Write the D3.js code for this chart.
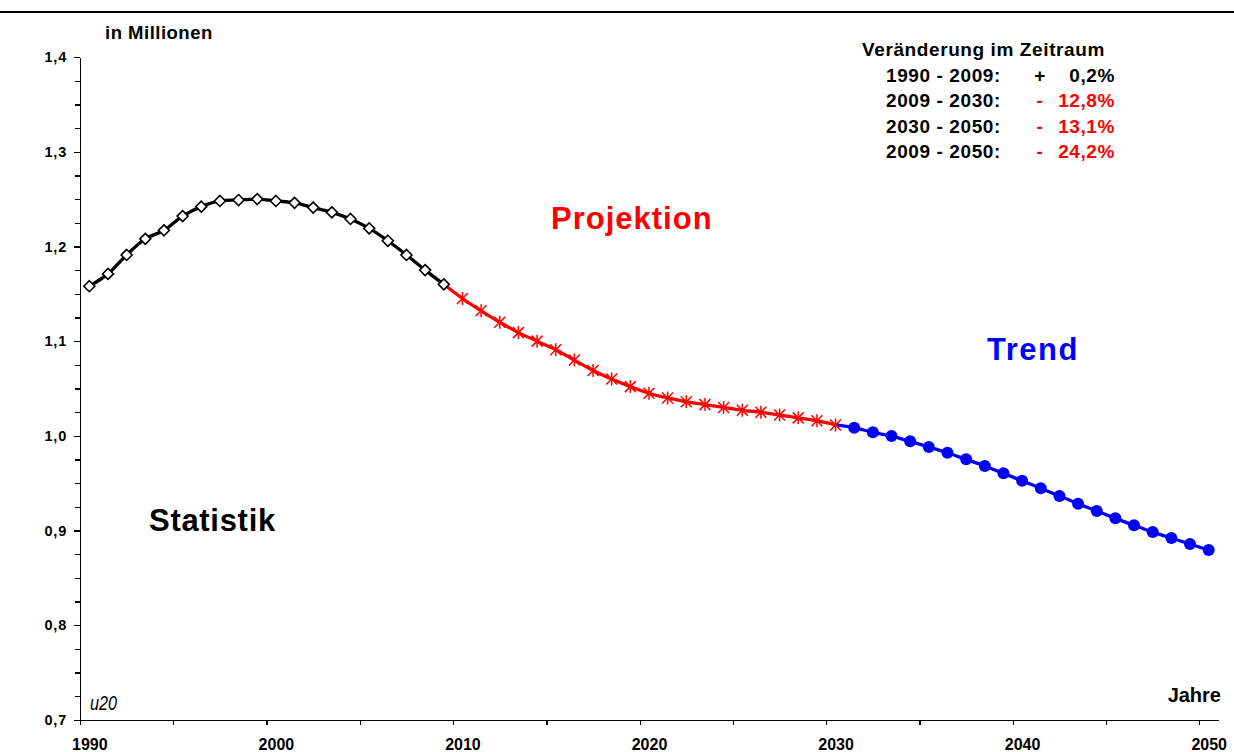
<!DOCTYPE html>
<html>
<head>
<meta charset="utf-8">
<title>Bevölkerung</title>
<style>
body { margin: 0; background: white; }
svg { display: block; font-family: "Liberation Sans", Arial, sans-serif; }
.axis path, .axis line { stroke: black; stroke-width: 1.3px; shape-rendering: crispEdges; }
.axis text { font-weight: bold; fill: black; font-family: "Liberation Sans", Arial, sans-serif; }
.x.axis text { font-size: 16px; }
.y.axis text { font-size: 14.5px; letter-spacing: 0.8px; }
.line { fill: none; stroke-width: 3.3px; stroke-linejoin: round; }
.lbl { font-weight: bold; }
</style>
</head>
<body>
<svg id="chart" width="1234" height="752"></svg>
<script src="https://cdn.jsdelivr.net/npm/d3@7"></script>
<script>

// data in millions, one value per year
var statYears = d3.range(1990, 2010);
var statistik = [1.158, 1.171, 1.191, 1.208, 1.217, 1.232, 1.242, 1.248, 1.249, 1.250,
                 1.248, 1.246, 1.241, 1.236, 1.229, 1.219, 1.206, 1.191, 1.175, 1.160];

var projYears = d3.range(2010, 2031);
var projektion = [1.145, 1.132, 1.120, 1.109, 1.100, 1.091, 1.080, 1.069, 1.060, 1.052,
                  1.045, 1.040, 1.036, 1.033, 1.030, 1.027, 1.025, 1.022, 1.019, 1.016, 1.0115];

var trendYears = d3.range(2031, 2051);
var trend = [1.0086, 1.0037, 0.9998, 0.9942, 0.9882, 0.9822, 0.9752, 0.9681, 0.9604, 0.9526,
             0.9446, 0.9364, 0.9283, 0.9206, 0.9129, 0.9055, 0.8984, 0.8921, 0.8858, 0.8794];

var legendTitle = "Veränderung im Zeitraum";
var legendPeriods = ["1990 - 2009:", "2009 - 2030:", "2030 - 2050:", "2009 - 2050:"];
var legendSigns = ["+", "-", "-", "-"];
var legendValues = ["0,2%", "12,8%", "13,1%", "24,2%"];

var xTicks = d3.range(1990, 2051, 10);
var xMinor = d3.range(1990, 2051, 5);
var yTicks = [0.7, 0.8, 0.9, 1.0, 1.1, 1.2, 1.3, 1.4];
var yMinor = d3.range(0, 29).map(function(i) { return 0.7 + i * 0.025; });

var svg = d3.select("#chart");

// category axis: each year occupies one slot, label and point in the middle
var x = d3.scaleLinear().domain([1990, 2051]).range([80, 1218]);
var y = d3.scaleLinear().domain([0.7, 1.4]).range([720, 57]);

var fmt = function(d) { return d3.format(".1f")(d).replace(".", ","); };

// top rule
svg.append("line")
    .attr("x1", 0).attr("x2", 1234)
    .attr("y1", 12).attr("y2", 12)
    .attr("stroke", "black").attr("stroke-width", 2);

// axes
svg.append("g")
    .attr("class", "x axis")
    .attr("transform", "translate(0," + y(0.7) + ")")
    .call(d3.axisBottom(x).tickValues(xMinor).tickSize(5).tickFormat("").tickSizeOuter(0));
svg.append("g")
    .attr("class", "x axis")
    .attr("transform", "translate(0," + y(0.7) + ")")
    .call(d3.axisBottom(x).tickValues(xTicks.map(function(d) { return d + 0.5; }))
        .tickSize(0).tickPadding(18.5).tickFormat(function(d) { return d - 0.5; }))
    .call(function(g) { g.select(".domain").remove(); });

svg.append("g")
    .attr("class", "y axis")
    .attr("transform", "translate(" + x(1990) + ",0)")
    .call(d3.axisLeft(y).tickValues(yMinor).tickSize(5).tickFormat("").tickSizeOuter(0));
svg.append("g")
    .attr("class", "y axis")
    .attr("transform", "translate(" + x(1990) + ",0)")
    .call(d3.axisLeft(y).tickValues(yTicks).tickSize(6).tickPadding(7).tickFormat(fmt).tickSizeOuter(0))
    .call(function(g) { g.select(".domain").remove(); });

// series
function pts(years, vals) {
  return years.map(function(yr, i) { return {year: yr, v: vals[i]}; });
}
var stat = pts(statYears, statistik);
var proj = pts(projYears, projektion);
var tr = pts(trendYears, trend);

var line = d3.line()
    .curve(d3.curveCatmullRom.alpha(0.5))
    .x(function(d) { return x(d.year + 0.5); })
    .y(function(d) { return y(d.v); });

svg.append("path").datum(stat).attr("class", "line").attr("stroke", "black").attr("d", line);
svg.append("path").datum([stat[stat.length - 1]].concat(proj)).attr("class", "line").attr("stroke", "#ff0000").attr("d", line);
svg.append("path").datum([proj[proj.length - 1]].concat(tr)).attr("class", "line").attr("stroke", "#0000ff").attr("d", line);

// markers
svg.append("g").selectAll("path")
    .data(stat)
  .join("path")
    .attr("transform", function(d) { return "translate(" + x(d.year + 0.5) + "," + y(d.v) + ")"; })
    .attr("d", "M0,-5.5L5.5,0L0,5.5L-5.5,0Z")
    .attr("fill", "white")
    .attr("stroke", "black")
    .attr("stroke-width", 1.6);

svg.append("g").selectAll("path")
    .data(proj)
  .join("path")
    .attr("transform", function(d) { return "translate(" + x(d.year + 0.5) + "," + y(d.v) + ")"; })
    .attr("d", "M-5.5,-5.5L5.5,5.5M5.5,-5.5L-5.5,5.5M0,-6.5L0,6.5")
    .attr("fill", "none")
    .attr("stroke", "#ff0000")
    .attr("stroke-width", 1.5);

svg.append("g").selectAll("circle")
    .data(tr)
  .join("circle")
    .attr("cx", function(d) { return x(d.year + 0.5); })
    .attr("cy", function(d) { return y(d.v); })
    .attr("r", 6)
    .attr("fill", "#0000ff");

// labels
svg.append("text").attr("class", "lbl").attr("x", 105).attr("y", 39)
    .attr("font-size", 18.5).attr("letter-spacing", 0.5).text("in Millionen");
svg.append("text").attr("class", "lbl").attr("x", 1221).attr("y", 702)
    .attr("font-size", 20).attr("text-anchor", "end").text("Jahre");
svg.append("text").attr("x", 90).attr("y", 710)
    .attr("font-style", "italic").attr("font-size", 21)
    .attr("textLength", 27).attr("lengthAdjust", "spacingAndGlyphs").text("u20");

svg.append("text").attr("class", "lbl").attr("x", 551).attr("y", 229)
    .attr("font-size", 31).attr("letter-spacing", 1).attr("fill", "#ff0000").text("Projektion");
svg.append("text").attr("class", "lbl").attr("x", 987).attr("y", 360)
    .attr("font-size", 31).attr("letter-spacing", 1.5).attr("fill", "#0000ff").text("Trend");
svg.append("text").attr("class", "lbl").attr("x", 149).attr("y", 531)
    .attr("font-size", 31).attr("letter-spacing", 0.7).attr("fill", "black").text("Statistik");

// change table
var leg = svg.append("g").attr("class", "lbl").attr("font-size", 19).attr("letter-spacing", 0.6);
leg.append("text").attr("x", 862).attr("y", 56).text(legendTitle);
legendPeriods.forEach(function(p, i) {
  var yy = 82 + i * 25.3;
  var col = i === 0 ? "black" : "#ff0000";
  leg.append("text").attr("x", 886).attr("y", yy).text(p);
  leg.append("text").attr("x", 1040).attr("y", yy).attr("text-anchor", "middle").attr("fill", col).text(legendSigns[i]);
  leg.append("text").attr("x", 1115).attr("y", yy).attr("text-anchor", "end").attr("fill", col).text(legendValues[i]);
});

</script>
</body>
</html>
